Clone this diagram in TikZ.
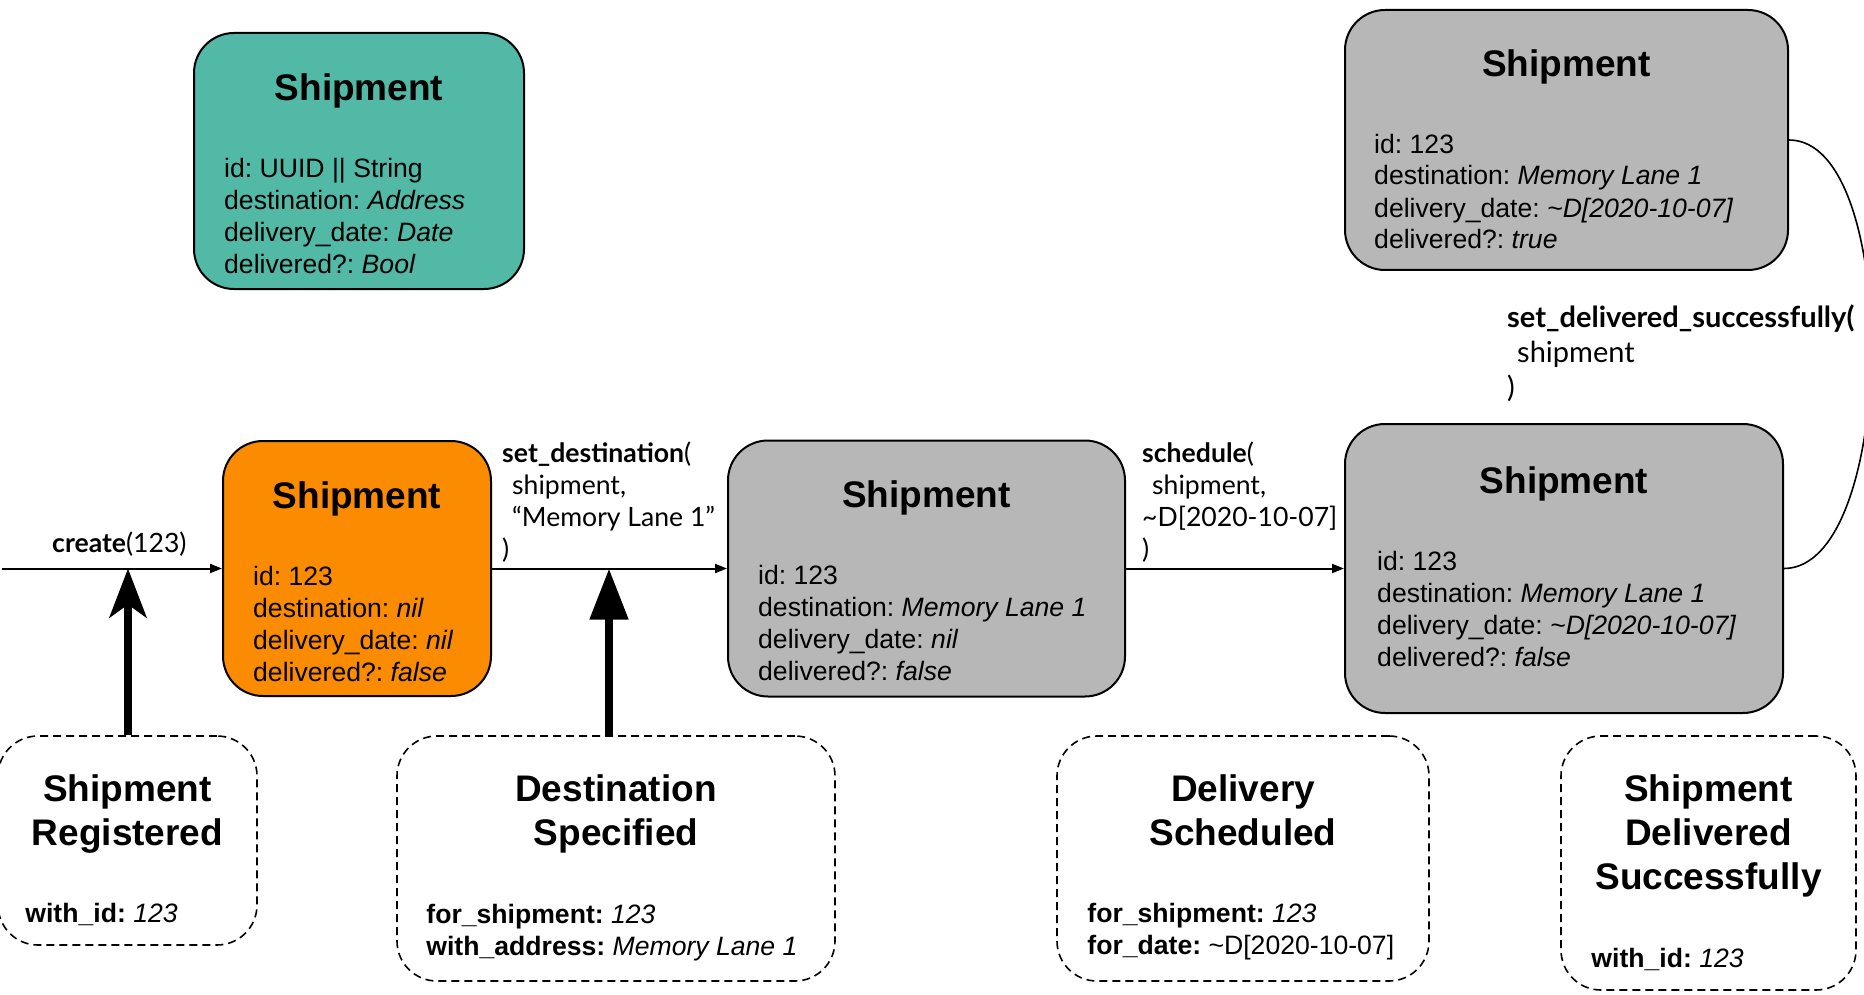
\documentclass[tikz,border=0pt]{standalone}
\usepackage{fontspec}
\setmainfont{Liberation Sans}
\newfontfamily\latofont{Lato}
\usetikzlibrary{positioning,arrows.meta,calc}
\definecolor{ModelTeal}{RGB}{82,185,166}
\definecolor{StateOrange}{RGB}{251,139,0}
\definecolor{StateGray}{RGB}{183,183,183}
\tikzset{
    entity/.style={draw, line width=2pt, rounded corners=40pt, inner sep=0pt},
    event/.style={draw, line width=1.6pt, dash pattern=on 8pt off 5pt, rounded corners=40pt, inner sep=0pt},
    boxtitle/.style={font=\fontsize{37}{44}\selectfont\bfseries, align=center, inner sep=0pt, anchor=base},
    boxbody/.style={font=\fontsize{26.6}{32}\selectfont, align=left, inner sep=0pt, anchor=base west},
    call/.style={font=\latofont\fontsize{26.6}{32}\selectfont, align=left, inner sep=0pt, anchor=base west},
    flow/.style={line width=2pt, -{Triangle[length=12pt,width=9pt]}},
}
\newcommand{\indentarg}{\hspace*{10pt}}
\frenchspacing

\begin{document}
\begin{tikzpicture}[x=1pt, y=-1pt]
            \useasboundingbox (0,0) rectangle (1864,995);
            \clip (0,0) rectangle (1864,995);
            % aggregate model and its states (body nodes sit on their last baseline)
            \node[entity, fill=ModelTeal, minimum width=330pt, minimum height=256pt] (model) at (359,161) {};
            \node[boxtitle] (modelT) at ($(model.north)+(0,69)$) {Shipment};
            \node[boxbody] (modelB) at ($(model.north west)+(31,241)$) {id: UUID || String\\destination: \textit{Address}\\delivery\_date: \textit{Date}\\delivered?: \textit{Bool}};

            \node[entity, fill=StateOrange, minimum width=268pt, minimum height=255pt] (shipNew) at (357,568.5) {};
            \node[boxtitle] (shipNewT) at ($(shipNew.north)+(0,68)$) {Shipment};
            \node[boxbody] (shipNewB) at ($(shipNew.north west)+(31,241)$) {id: 123\\destination: \textit{nil}\\delivery\_date: \textit{nil}\\delivered?: \textit{false}};

            \node[entity, fill=StateGray, minimum width=397pt, minimum height=256pt] (shipDest) at (926.5,568.5) {};
            \node[boxtitle] (shipDestT) at ($(shipDest.north)+(0,68)$) {Shipment};
            \node[boxbody] (shipDestB) at ($(shipDest.north west)+(31,241)$) {id: 123\\destination: \textit{Memory Lane 1}\\delivery\_date: \textit{nil}\\delivered?: \textit{false}};

            \node[entity, fill=StateGray, minimum width=438pt, minimum height=289pt] (shipSched) at (1564,568.5) {};
            \node[boxtitle] (shipSchedT) at ($(shipSched.north)+(0,70)$) {Shipment};
            \node[boxbody] (shipSchedB) at ($(shipSched.north west)+(33,243)$) {id: 123\\destination: \textit{Memory Lane 1}\\delivery\_date: \textit{\textasciitilde D[2020-10-07]}\\delivered?: \textit{false}};

            \node[entity, fill=StateGray, minimum width=443pt, minimum height=260pt] (shipDone) at (1566.5,140) {};
            \node[boxtitle] (shipDoneT) at ($(shipDone.north)+(0,68)$) {Shipment};
            \node[boxbody] (shipDoneB) at ($(shipDone.north west)+(30,240)$) {id: 123\\destination: \textit{Memory Lane 1}\\delivery\_date: \textit{\textasciitilde D[2020-10-07]}\\delivered?: \textit{true}};

            % commands
            \coordinate (origin) at (2,568.5);
            \draw[flow] (origin) -- (shipNew.west);
            \draw[flow] (shipNew.east) -- (shipDest.west);
            \draw[flow] (shipDest.east) -- (shipSched.west);
            \draw[line width=1.6pt] (shipDone.east) .. controls +(113,0) and +(113,0) .. (shipSched.east);
            \node[call] (create) at (52,552) {\textbf{create}(123)};
            \node[call] (setDest) at (502,558) {\textbf{set\_destination}(\\\indentarg shipment,\\\indentarg “Memory Lane 1”\\)};
            \node[call] (schedule) at (1142,558) {\textbf{schedule}(\\\indentarg shipment,\\\textasciitilde D[2020-10-07]\\)};
            \node[call, font=\latofont\fontsize{29}{35}\selectfont] (setDone) at (1507,397) {\textbf{set\_delivered\_successfully(}\\\indentarg shipment\\)};

            % events
            \node[event, minimum width=259pt, minimum height=209pt] (reg) at (127.5,840.5) {};
            \node[boxtitle] (regT) at ($(reg.north)+(0,110)$) {Shipment\\Registered};
            \node[boxbody] (regB) at ($(reg.north west)+(28,187)$) {\textbf{with\_id:} \textit{123}};

            \node[event, minimum width=438pt, minimum height=245pt] (dest) at (616,858.5) {};
            \node[boxtitle] (destT) at ($(dest.north)+(0,110)$) {Destination\\Specified};
            \node[boxbody] (destB) at ($(dest.north west)+(30,220)$) {\textbf{for\_shipment:} \textit{123}\\\textbf{with\_address:} \textit{Memory Lane 1}};

            \node[event, minimum width=372pt, minimum height=245pt] (sched) at (1243,858.5) {};
            \node[boxtitle] (schedT) at ($(sched.north)+(0,110)$) {Delivery\\Scheduled};
            \node[boxbody] (schedB) at ($(sched.north west)+(31,219)$) {\textbf{for\_shipment:} \textit{123}\\\textbf{for\_date:} \textasciitilde D[2020-10-07]};

            \node[event, minimum width=295pt, minimum height=254pt] (deliv) at (1708.5,863) {};
            \node[boxtitle] (delivT) at ($(deliv.north)+(0,154)$) {Shipment\\Delivered\\Successfully};
            \node[boxbody] (delivB) at ($(deliv.north west)+(31,232)$) {\textbf{with\_id:} \textit{123}};

            \coordinate (hitReg) at (128,568.5);
            \coordinate (hitDest) at (609,568.5);
            \draw[line width=8pt, -{Stealth[length=49pt,width=37pt,inset=13pt]}] (hitReg |- reg.north) -- (hitReg);
            \draw[line width=8pt, -{Triangle[length=51pt,width=37pt]}] (hitDest |- dest.north) -- (hitDest);
        \end{tikzpicture}
\end{document}
